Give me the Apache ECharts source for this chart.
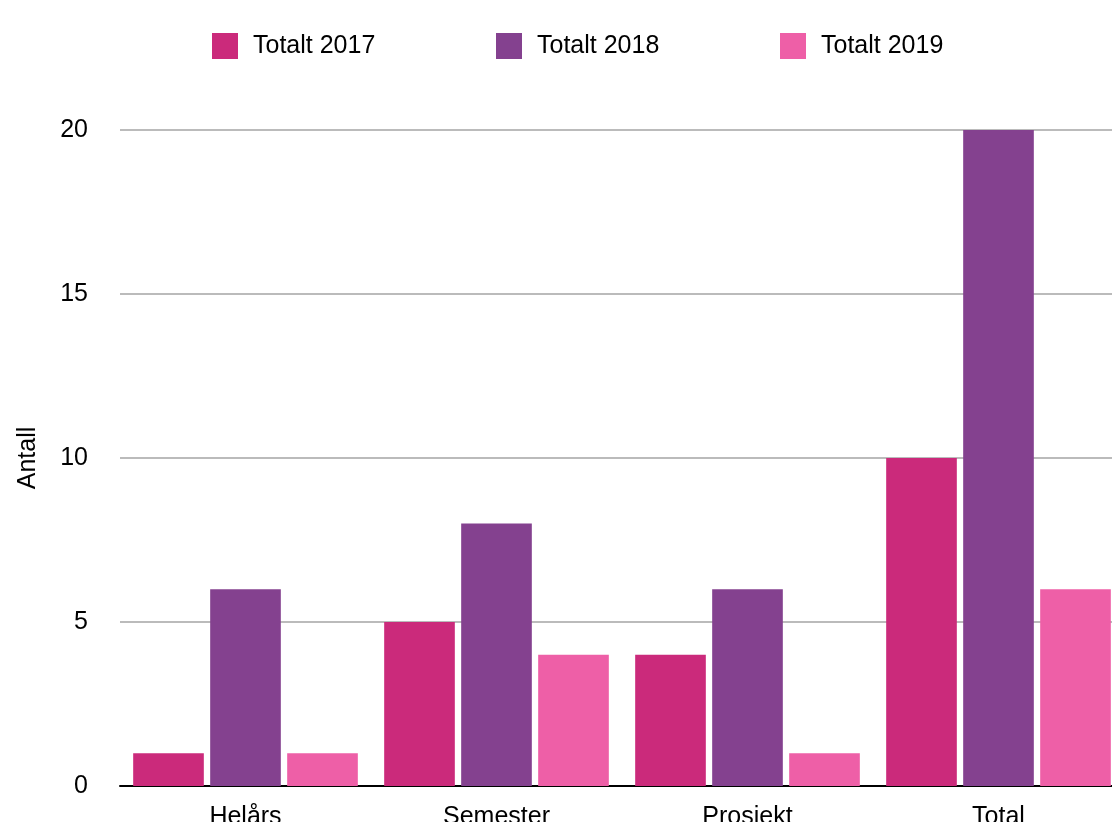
<!DOCTYPE html>
<html>
<head>
<meta charset="utf-8">
<script src="https://cdn.jsdelivr.net/npm/echarts@6/dist/echarts.min.js"></script>
<style>
html,body{margin:0;padding:0;background:#fff;}
#c{width:1112px;height:822px;}
</style>
</head>
<body>
<div id="c"></div>
<script>
const categories = ['Helårs', 'Semester', 'Prosjekt', 'Total'];
const seriesNames = ['Totalt 2017', 'Totalt 2018', 'Totalt 2019'];
const values2017 = [1, 5, 4, 10];
const values2018 = [6, 8, 6, 20];
const values2019 = [1, 4, 1, 6];
const yTicks = [0, 5, 10, 15, 20];
const colors = ['#CB2A7B', '#84418F', '#EE5FA7'];
const FONT = 'Liberation Sans, Arial, Helvetica, sans-serif';

const chart = echarts.init(document.getElementById('c'), null, {renderer: 'canvas'});
const allValues = [values2017, values2018, values2019];
const legendLefts = [207, 491, 775];

chart.setOption({
  animation: false,
  textStyle: {fontFamily: FONT},
  legend: seriesNames.map((n, i) => ({
    data: [n],
    left: legendLefts[i],
    top: 28,
    itemWidth: 26,
    itemHeight: 26,
    icon: 'rect',
    textStyle: {fontSize: 25, color: '#000', fontFamily: FONT, padding: [0, 0, 0, 10]}
  })),
  grid: {left: 120, width: 1004, top: 130, bottom: 36, containLabel: false, outerBoundsMode: 'none'},
  xAxis: {
    type: 'category',
    data: categories,
    axisLine: {show: true, lineStyle: {color: '#000', width: 2}},
    axisTick: {show: false},
    axisLabel: {fontSize: 25, color: '#000', margin: 19, fontFamily: FONT}
  },
  yAxis: {
    type: 'value',
    min: yTicks[0],
    max: yTicks[yTicks.length - 1],
    interval: 5,
    name: 'Antall',
    nameLocation: 'middle',
    nameGap: 79,
    nameRotate: 90,
    nameTextStyle: {fontSize: 25, color: '#000', fontFamily: FONT},
    axisLine: {show: false},
    axisTick: {show: false},
    axisLabel: {fontSize: 25, color: '#000', margin: 32, fontFamily: FONT},
    splitLine: {lineStyle: {color: '#bbbbbb', width: 2}}
  },
  series: seriesNames.map((n, i) => ({
    name: n,
    type: 'bar',
    data: allValues[i],
    itemStyle: {color: colors[i]},
    barGap: '9%',
    barCategoryGap: '10.5%'
  }))
});
</script>
</body>
</html>
